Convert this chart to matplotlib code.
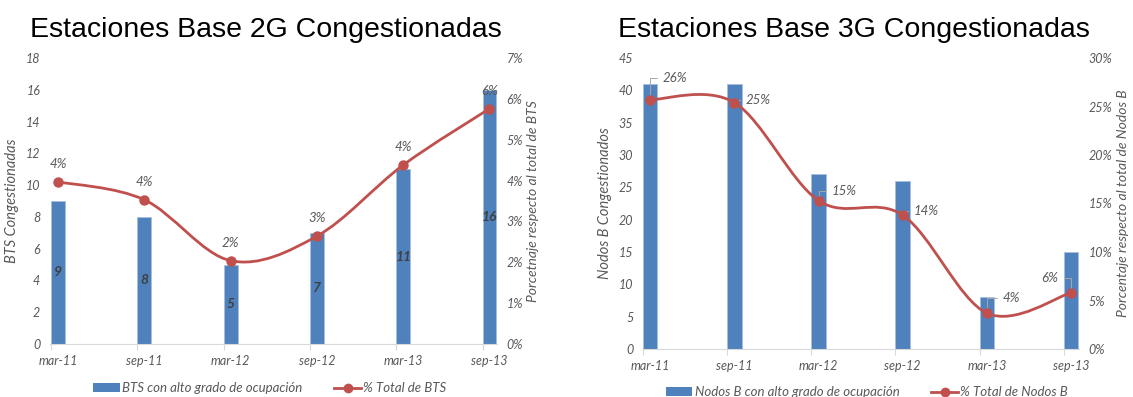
import numpy as np
import matplotlib
matplotlib.use('Agg')
import matplotlib.pyplot as plt
from matplotlib.path import Path
from matplotlib.patches import PathPatch, Patch
from matplotlib.lines import Line2D

# datos
periods = ['mar-11', 'sep-11', 'mar-12', 'sep-12', 'mar-13', 'sep-13']

bts_congested = [9, 8, 5, 7, 11, 16]
bts_pct = [3.97, 3.53, 2.04, 2.64, 4.38, 5.76]

nodob_congested = [41, 41, 27, 26, 8, 15]
nodob_pct = [25.7, 25.4, 15.3, 13.8, 3.7, 5.8]

BLUE = '#4f81bd'
RED = '#c0504d'
GRAY = '#595959'
DARK = '#404040'
AXIS = '#d9d9d9'
TICK_FONT = 'Lato'
TITLE_FONT = 'Liberation Sans'

plt.rcParams['font.family'] = TICK_FONT


def smooth_path(x, y):
    # curva tipo Excel: bezier cubica con tangentes de Catmull-Rom
    pts = np.column_stack([x, y]).astype(float)
    n = len(pts)
    verts = [pts[0]]
    codes = [Path.MOVETO]
    for i in range(n - 1):
        p0 = pts[max(i - 1, 0)]
        p1 = pts[i]
        p2 = pts[i + 1]
        p3 = pts[min(i + 2, n - 1)]
        c1 = p1 + (p2 - p0) / 6.0
        c2 = p2 - (p3 - p1) / 6.0
        verts += [c1, c2, p2]
        codes += [Path.CURVE4] * 3
    return Path(verts, codes)


def draw_panel(fig, rect, counts, pct, width, xlim, ymax, ystep, pmax, pstep,
               ylabel, plabel, title, title_x, bar_labels, pct_offsets,
               legend_labels, legend_xy):
    ax = fig.add_axes(rect)
    x = np.arange(len(periods))

    ax.bar(x, counts, width=width, color=BLUE, edgecolor='#a7c0de',
           linewidth=0.6, zorder=2)
    if bar_labels:
        for xi, v in zip(x, counts):
            ax.text(xi, v / 2, f'{v:.0f}', ha='center', va='center',
                    fontsize=10, style='italic', fontweight='bold',
                    color=DARK, zorder=3)

    ax.set_xlim(*xlim)
    ax.set_ylim(0, ymax)
    ax.set_yticks(np.arange(0, ymax + 0.1, ystep))
    ax.set_xticks(x)
    ax.set_xticklabels(periods)
    ax.set_xticks(x - width / 2, minor=True)
    ax.tick_params(axis='x', which='major', length=0, pad=8)
    ax.tick_params(axis='x', which='minor', length=4, color=AXIS, width=0.8)
    ax.tick_params(axis='y', length=0, pad=7)
    for lab in ax.get_xticklabels() + ax.get_yticklabels():
        lab.set_fontsize(9)
        lab.set_style('italic')
        lab.set_color(GRAY)
    for s in ['top', 'left', 'right']:
        ax.spines[s].set_visible(False)
    ax.spines['bottom'].set_color(AXIS)
    ax.set_ylabel(ylabel, fontsize=10.5, style='italic', color=GRAY, labelpad=5)

    ax2 = ax.twinx()
    ax2.set_ylim(0, pmax)
    ax2.set_yticks(np.arange(0, pmax + 0.1, pstep))
    ax2.set_yticklabels([f'{t:.0f}%' for t in np.arange(0, pmax + 0.1, pstep)])
    ax2.tick_params(axis='y', length=0, pad=7)
    for lab in ax2.get_yticklabels():
        lab.set_fontsize(9)
        lab.set_style('italic')
        lab.set_color(GRAY)
    for s in ax2.spines.values():
        s.set_visible(False)
    ax2.set_ylabel(plabel, fontsize=10, style='italic', color=GRAY, labelpad=3)

    ax2.add_patch(PathPatch(smooth_path(x, pct), facecolor='none',
                            edgecolor=RED, linewidth=2.0, zorder=3))
    ax2.plot(x, pct, linestyle='none', marker='o', markersize=6.5,
             color=RED, zorder=4)

    for xi, v, off in zip(x, pct, pct_offsets):
        label = f'{v:.0f}%'
        if off is None:
            ax2.annotate(label, (xi, v), xytext=(0, 18), textcoords='offset pixels',
                         ha='center', va='center', fontsize=9.5, style='italic',
                         color=GRAY)
        else:
            dx, dy = off
            ax2.annotate(label, (xi, v), xytext=(dx, dy), textcoords='offset pixels',
                         ha='left' if dx > 0 else 'right', va='center',
                         fontsize=9.5, style='italic', color=GRAY,
                         arrowprops=dict(arrowstyle='-', color='#a6a6a6', lw=0.7,
                                         shrinkA=2, shrinkB=0,
                                         connectionstyle='angle,angleA=0,angleB=90,rad=0'))

    fig.text(title_x, 1 - 37 / 397, title, fontsize=20.5, family=TITLE_FONT,
             color='black', ha='left', va='baseline')

    handles = [Patch(facecolor=BLUE, edgecolor='none'),
               Line2D([], [], color=RED, linewidth=2.0, marker='o', markersize=6)]
    fig.legend(handles, legend_labels, loc='center', ncol=2,
               bbox_to_anchor=legend_xy, frameon=False,
               handlelength=2.0, handleheight=0.6, handletextpad=0.2,
               columnspacing=2.4, labelcolor=GRAY,
               prop={'style': 'italic', 'size': 9.5})


fig = plt.figure(figsize=(11.33, 3.97), dpi=100)

draw_panel(fig, [50 / 1133, 1 - 344 / 397, 447 / 1133, 286 / 397],
           bts_congested, bts_pct, 0.162, (-0.093, 5.087), 18, 2, 7, 1,
           'BTS Congestionadas', 'Porcetnaje respecto al total de BTS',
           'Estaciones Base 2G Congestionadas', 30 / 1133, True,
           [None] * 6,
           ['BTS con alto grado de ocupación', '% Total de BTS'],
           (270 / 1133, 1 - 388 / 397))

draw_panel(fig, [643 / 1133, 1 - 349 / 397, 436 / 1133, 291 / 397],
           nodob_congested, nodob_pct, 0.172, (-0.083, 5.095), 45, 5, 30, 5,
           'Nodos B Congestionados', 'Porcentaje respecto al total de Nodos B',
           'Estaciones Base 3G Congestionadas', 618 / 1133, False,
           [(12, 22), (11, 3), (13, 10), (11, 4), (16, 15), (-13, 15)],
           ['Nodos B con alto grado de ocupación', '% Total de Nodos B'],
           (867 / 1133, 1 - 392 / 397))

fig.savefig('out.png', dpi=100)
